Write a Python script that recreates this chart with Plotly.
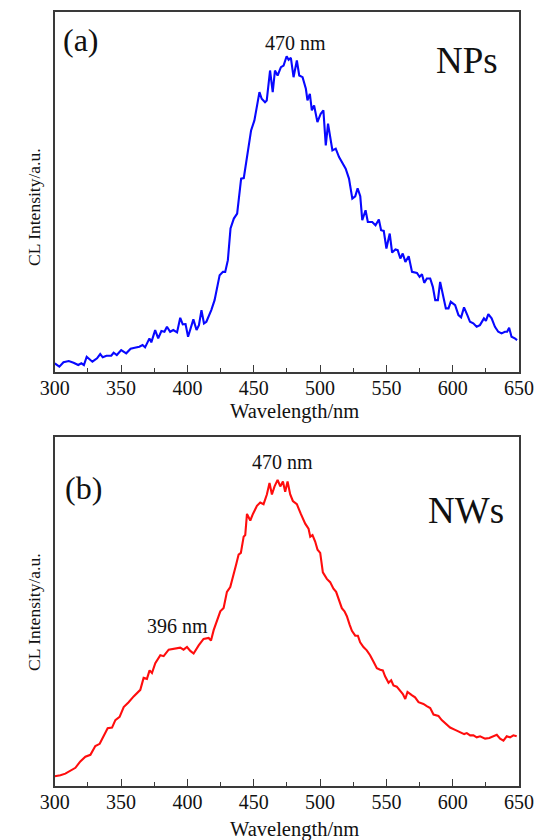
import plotly.graph_objects as go

# ---- Data (intensity in arbitrary units) ----
np_wavelength = [300, 303.5, 306.6, 310.6, 314.2, 317.7, 320.1, 322, 324.1, 326.5, 328.4, 331.9,
                 334.3, 336.2, 339, 342.6, 344.4, 346.8, 350.1, 353.9, 357.2, 360.3, 363.8, 366.2,
                 368.1, 371.4, 372.8, 375.7, 378, 380.4, 382.7, 384.6, 387, 389.4, 392.2, 394.6,
                 396.5, 398.6, 400.5, 404.5, 406.9, 408.7, 410.6, 412.5, 414.3, 418, 420.5, 424.3,
                 426.8, 428.5, 430.5, 432.5, 435, 437.5, 440.5, 442.5, 444.8, 448, 450.5, 454.3,
                 456, 458.5, 459.8, 462.3, 464.3, 466, 468, 470.5, 472.5, 474.8, 476.3, 478, 480,
                 482.5, 484.3, 486.8, 489.3, 490.5, 492.3, 493.8, 495.5, 498, 500.5, 502.5, 504.3,
                 506, 509.3, 511.8, 514.3, 516.8, 519.3, 521.8, 524.3, 526.5, 528.3, 530.3, 531.8,
                 534.3, 536, 539.3, 541.8, 544.3, 546, 548, 550, 552.5, 554.3, 556.8, 558.5, 560.5,
                 562.3, 564.3, 566.8, 569.3, 573, 575, 576.8, 578.5, 580.5, 583, 585, 586.8, 588.8,
                 590.5, 593, 594.8, 596.8, 598.5, 601.8, 604.3, 606.3, 608.5, 611, 613, 615.5, 618,
                 620.5, 623.5, 625, 626.8, 629.3, 631.8, 634.3, 636.8, 639.3, 641, 642.5, 644.3,
                 646.8, 648.5]
np_intensity = [8.7, 5.3, 9.7, 11, 9.3, 7, 8.7, 7, 15.3, 13, 10.3, 13.7,
                18, 14.7, 16.3, 16.3, 19.3, 17, 22, 18.7, 23.3, 24.3, 25.3, 27,
                24.7, 33.7, 29.7, 42, 33.7, 41, 40.3, 45.3, 40.3, 42, 39.7, 54.3,
                47.7, 48, 35.3, 52.7, 42, 47, 62, 48.7, 50.3, 62, 72, 97,
                100.3, 100.3, 112, 143.7, 153.7, 158.7, 193.7, 194.3, 215.3, 242, 252, 280.3,
                273.7, 270.3, 272, 302, 280.3, 302, 297, 305.3, 307, 316.3, 312.7, 314.7, 295.3,
                312, 297, 295.3, 283.7, 272, 278.7, 262, 267, 250.3, 258.7, 262, 227,
                248.7, 222, 223.7, 215.3, 208.7, 203.7, 193.7, 173.7, 176, 184, 176, 152,
                162, 150.3, 150.3, 147, 152.7, 142, 141.3, 123.7, 138.7, 119.7, 122.7, 122, 113.7,
                118.7, 110.3, 116, 100.3, 99.3, 95.3, 98, 89.3, 93.7, 93.7, 85.3, 72, 72,
                90.3, 75.3, 63.7, 63.7, 70.3, 67, 57, 54.7, 64.7, 57, 50.3, 48.7, 45.3,
                47, 53.7, 51.3, 58, 53.7, 45.3, 40.3, 38.7, 40.3, 40.3, 44.3, 35.3,
                33.7, 32]

nw_wavelength = [300, 304.3, 308, 311.8, 315.6, 319.3, 323.1, 326.9, 330.6, 333.9, 336.9, 339.9,
                 343.2, 345.7, 348.9, 352, 355.7, 359.5, 364.5, 367, 369.5, 371.5, 373.3, 375.8,
                 379.6, 382.1, 385.9, 389.6, 392.1, 394.6, 397.1, 399.7, 402.2, 404.7, 408.5,
                 412.2, 416, 417.8, 419.8, 422.8, 424.8, 427.3, 429.8, 432.3, 434.8, 436.8, 438.6,
                 440.3, 442.4, 443.6, 444.9, 447.4, 449.4, 452.4, 454.9, 457.4, 459.9, 461.9,
                 463.7, 465.7, 468, 470, 472, 473.7, 475.5, 477.5, 479.5, 482.5, 485.5, 488.8,
                 491.3, 492.6, 494.3, 496.3, 498.1, 500.1, 502.1, 505.1, 507.6, 510.1, 512.1,
                 513.9, 516.4, 518.4, 520.2, 522.2, 524, 526.5, 528.5, 530.2, 532.7, 535.2, 537.7,
                 540.3, 542.8, 545.3, 547.3, 549, 551.6, 553.6, 555.3, 557.8, 560.3, 562.4, 564.2,
                 565.9, 569.1, 571.6, 574.2, 577.9, 580.4, 583, 585.5, 589.2, 591.7, 595.5, 598,
                 601.8, 605.5, 608.6, 610.6, 613.1, 615.6, 618.1, 620.6, 624.4, 627.6, 630.7,
                 633.2, 635.7, 638.2, 640.7, 643.2, 645.7, 648.2]
nw_intensity = [10, 11, 12.7, 15.3, 18.7, 25.3, 30, 32, 41, 43.3, 51, 59.3,
                60, 67.7, 71, 81, 86, 92, 98.7, 111, 110, 118.7, 116, 126,
                134.3, 133.3, 140, 141, 141, 142, 140, 142.7, 138.7, 136, 144.3,
                151, 152, 149.3, 160, 172.6, 179.3, 182.7, 199.3, 204.3, 216, 227.6, 237.6,
                239.3, 256, 257.6, 279.3, 272.6, 279.3, 287.6, 291, 289.3, 299.3, 311,
                299.3, 307.6, 314.3, 307.6, 312.6, 302, 312.6, 299.3, 292.6, 289.3, 279.3, 269.3,
                264.3, 256, 257.6, 251, 242.6, 239.3, 219.3, 212.6, 209.3, 202.6, 199.3,
                192.6, 182.6, 179.3, 174.3, 166, 159.3, 154.3, 154.3, 147.6, 142.6, 139.3, 134.3,
                127.6, 121, 119.3, 118.6, 112.6, 106, 108.6, 103.3, 102, 97.6, 94.3, 89.3,
                96.6, 93.3, 91, 86, 84.3, 82, 80, 73.3, 72, 67.6, 63.3, 60,
                57.6, 55.3, 53.3, 54.3, 52, 52, 50, 51, 48.6, 49.3, 51,
                52.6, 48.6, 46.6, 51, 50, 52, 51]

x_tick_values = [300, 350, 400, 450, 500, 550, 600, 650]
x_tick_labels = ["300", "350", "400", "450", "500", "550", "600", "650"]
x_minor_values = [325, 375, 425, 475, 525, 575, 625]

# ---- Layout geometry (pixels) ----
W, H = 553, 840
FONT = "Liberation Serif, Times New Roman, serif"
AXCOL = "#3a3a3a"
PL, PR = 42, 533            # plot left / right
T1, B1 = 12, 372            # top panel
T2, B2 = 437, 786           # bottom panel

fig = go.Figure()
fig.add_trace(go.Scatter(x=np_wavelength, y=np_intensity, mode="lines",
                         line=dict(color="#0808ff", width=2.1), xaxis="x", yaxis="y",
                         showlegend=False, hoverinfo="skip"))
fig.add_trace(go.Scatter(x=nw_wavelength, y=nw_intensity, mode="lines",
                         line=dict(color="#ff0d0d", width=2.1), xaxis="x2", yaxis="y2",
                         showlegend=False, hoverinfo="skip"))

xcommon = dict(range=[300, 650], tickvals=x_tick_values, ticktext=x_tick_labels,
               ticks="inside", ticklen=7, tickwidth=1.3, tickcolor=AXCOL,
               ticklabelstandoff=-3,
               minor=dict(tickvals=x_minor_values, ticks="inside",
                          ticklen=4, tickwidth=1.3, tickcolor=AXCOL),
               showline=True, linecolor=AXCOL, linewidth=1.5, mirror=True,
               showgrid=False, zeroline=False,
               tickfont=dict(family=FONT, size=20, color="#111"))
ycommon = dict(showticklabels=False, ticks="", showline=True, linecolor=AXCOL,
               linewidth=1.5, mirror=True, showgrid=False, zeroline=False)

fig.update_layout(
    width=W, height=H, margin=dict(l=0, r=0, t=0, b=0),
    paper_bgcolor="white", plot_bgcolor="white",
    xaxis=dict(domain=[PL / W, PR / W], anchor="y", **xcommon),
    yaxis=dict(domain=[1 - B1 / H, 1 - T1 / H], anchor="x", range=[0, 360.6], **ycommon),
    xaxis2=dict(domain=[PL / W, PR / W], anchor="y2", **xcommon),
    yaxis2=dict(domain=[1 - B2 / H, 1 - T2 / H], anchor="x2", range=[0, 358.3], **ycommon),
)

def ann(text, x, y, size, xanchor="center"):
    fig.add_annotation(text=text, x=x / W, y=1 - y / H, xref="paper", yref="paper",
                       showarrow=False, xanchor=xanchor, yanchor="middle",
                       font=dict(family=FONT, size=size, color="#111"))

# panel labels / peak annotations
ann("(a)", 70, 40, 32)
ann("470 nm", 297, 43, 20)
ann("NPs", 478, 61, 37)
ann("(b)", 72, 488, 32)
ann("470 nm", 283, 462, 20)
ann("NWs", 477, 511, 37)
ann("396 nm", 172, 626, 20)

# axis titles
ann("Wavelength/nm", 296, 411, 20.5)
ann("Wavelength/nm", 296, 829, 20.5)
for yc in (207, 612):
    fig.add_annotation(text="CL Intensity/a.u.", x=20 / W, y=1 - yc / H, xref="paper",
                       yref="paper", showarrow=False, textangle=-90,
                       xanchor="center", yanchor="middle",
                       font=dict(family=FONT, size=17.5, color="#111"))

fig.write_html("out.html", config={"displayModeBar": False},
               post_script="document.body.style.margin='0';document.body.style.overflow='hidden';")
